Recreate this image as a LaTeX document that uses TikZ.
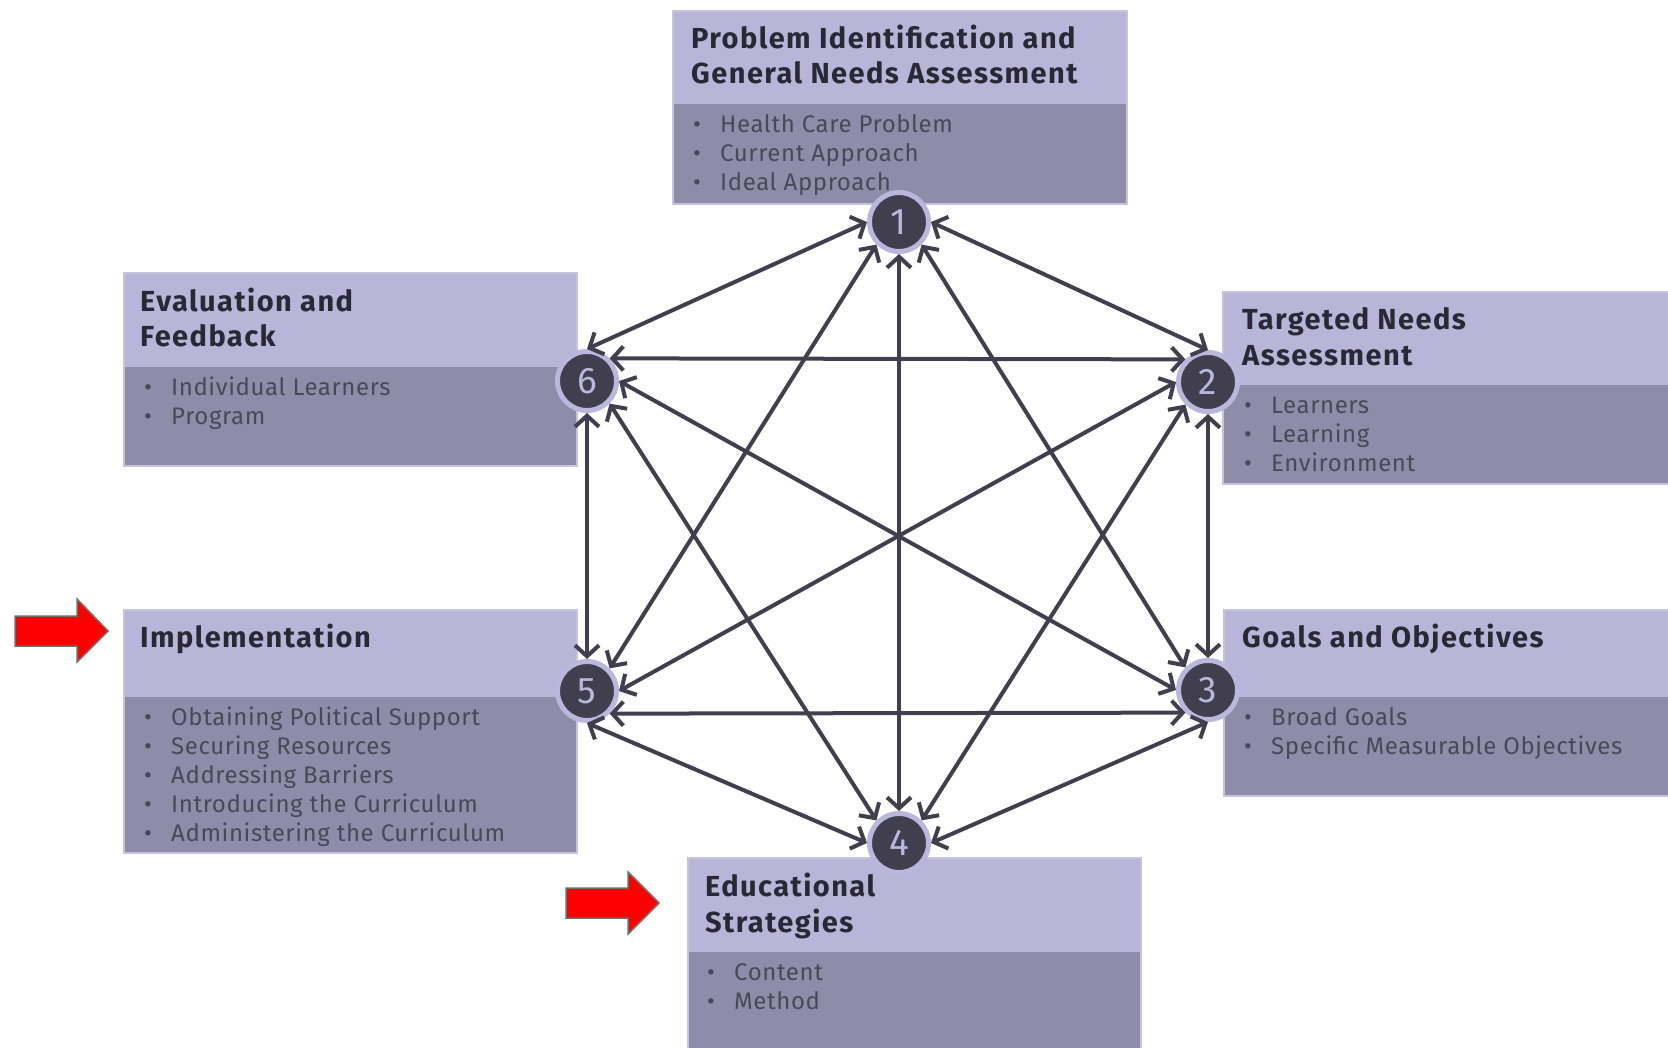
\documentclass[tikz,border=0pt]{standalone}
\usepackage{fontspec}
\setmainfont{Fira Sans}
\newfontfamily\headfont[LetterSpace=5]{Fira Sans}
\newfontfamily\itemfont[LetterSpace=2.5]{Fira Sans}
\usetikzlibrary{arrows.meta}

\definecolor{headfill}{HTML}{B9B5D9}
\definecolor{bodyfill}{HTML}{8F8CAA}
\definecolor{boxline}{HTML}{C6C3E0}
\definecolor{headtext}{HTML}{2A2834}
\definecolor{bodytext}{HTML}{4A4858}
\definecolor{dark}{HTML}{413E4E}
\definecolor{ring}{HTML}{BAB6DC}
\definecolor{pointred}{HTML}{FF0000}
\definecolor{pointline}{HTML}{6E6E6E}

\newcommand{\bull}{\makebox[27pt][l]{\textbullet}}

\tikzset{
  headline/.style={anchor=base west, inner sep=0pt, text=headtext,
    font=\headfont\fontsize{29}{35}\selectfont\bfseries},
  item/.style={anchor=base west, inner sep=0pt, text=bodytext,
    font=\itemfont\fontsize{24}{29}\selectfont},
  stage/.style={circle, fill=dark, draw=ring, line width=5pt,
    minimum size=59pt, inner sep=0pt, text=ring,
    font=\fontsize{37}{37}\selectfont},
  link/.style={line width=4pt, draw=dark,
    {Straight Barb[length=11pt,width=24pt]}-{Straight Barb[length=11pt,width=24pt]}},
  pointer/.style={fill=pointred, draw=pointline, line width=1.5pt}
}

\begin{document}
\begin{tikzpicture}[x=1pt, y=-1pt]
        \useasboundingbox (0,0) rectangle (1668,1047);

        % box 1: problem identification
        \fill[headfill] (673,11) rectangle (1127,104);
        \fill[bodyfill] (673,104) rectangle (1127,204);
        \draw[boxline, line width=1.5pt] (673,11) rectangle (1127,204);
        \node[headline] (h1a) at (691,48) {Problem Identification and};
        \node[headline] (h1b) at (691,83) {General Needs Assessment};
        \foreach \t [count=\i] in {Health Care Problem, Current Approach, Ideal Approach}
          \node[item] (l1-\i) at (693,{103+29*\i}) {\bull\t};

        % box 6: evaluation
        \fill[headfill] (124,273) rectangle (577,367);
        \fill[bodyfill] (124,367) rectangle (577,466);
        \draw[boxline, line width=1.5pt] (124,273) rectangle (577,466);
        \node[headline] (h6a) at (140,311) {Evaluation and};
        \node[headline] (h6b) at (140,346) {Feedback};
        \foreach \t [count=\i] in {Individual Learners, Program}
          \node[item] (l6-\i) at (144,{366+29*\i}) {\bull\t};

        % box 2: targeted needs
        \fill[headfill] (1223,292) rectangle (1672,385);
        \fill[bodyfill] (1223,385) rectangle (1672,484);
        \draw[boxline, line width=1.5pt] (1223,292) rectangle (1672,484);
        \node[headline] (h2a) at (1242,329) {Targeted Needs};
        \node[headline] (h2b) at (1242,365) {Assessment};
        \foreach \t [count=\i] in {Learners, Learning, Environment}
          \node[item] (l2-\i) at (1244,{384+29*\i}) {\bull\t};

        % box 3: goals
        \fill[headfill] (1224,610) rectangle (1672,697);
        \fill[bodyfill] (1224,697) rectangle (1672,796);
        \draw[boxline, line width=1.5pt] (1224,610) rectangle (1672,796);
        \node[headline] (h3a) at (1242,647) {Goals and Objectives};
        \foreach \t [count=\i] in {Broad Goals, Specific Measurable Objectives}
          \node[item] (l3-\i) at (1244,{696+29*\i}) {\bull\t};

        % box 4: educational strategies
        \fill[headfill] (688,858) rectangle (1141,952);
        \fill[bodyfill] (688,952) rectangle (1141,1052);
        \draw[boxline, line width=1.5pt] (688,1052) -- (688,858) -- (1141,858) -- (1141,1052);
        \node[headline] (h4a) at (705,896) {Educational};
        \node[headline] (h4b) at (705,932) {Strategies};
        \foreach \t [count=\i] in {Content, Method}
          \node[item] (l4-\i) at (707,{951+29*\i}) {\bull\t};

        % box 5: implementation
        \fill[headfill] (124,610) rectangle (577,697);
        \fill[bodyfill] (124,697) rectangle (577,853);
        \draw[boxline, line width=1.5pt] (124,610) rectangle (577,853);
        \node[headline] (h5a) at (140,647) {Implementation};
        \foreach \t [count=\i] in {Obtaining Political Support, Securing Resources,
            Addressing Barriers, Introducing the Curriculum, Administering the Curriculum}
          \node[item] (l5-\i) at (144,{696+29*\i}) {\bull\t};

        % the six steps
        \node[stage] (n1) at (899,222) {1};
        \node[stage] (n2) at (1208,382) {2};
        \node[stage] (n3) at (1208,690) {3};
        \node[stage] (n4) at (899,843) {4};
        \node[stage] (n5) at (587,691) {5};
        \node[stage] (n6) at (587,381) {6};

        % every step linked to every other one
        \draw[link] (n1.180) -- (n6.90);
        \draw[link] (n1.225) -- (n5.45);
        \draw[link] (n1.270) -- (n4.90);
        \draw[link] (n1.315) -- (n3.135);
        \draw[link] (n1.0) -- (n2.90);
        \draw[link] (n2.135) -- (n6.45);
        \draw[link] (n2.180) -- (n5.0);
        \draw[link] (n2.225) -- (n4.45);
        \draw[link] (n2.270) -- (n3.90);
        \draw[link] (n3.180) -- (n6.0);
        \draw[link] (n3.225) -- (n5.-45);
        \draw[link] (n3.270) -- (n4.0);
        \draw[link] (n4.135) -- (n6.-45);
        \draw[link] (n4.180) -- (n5.-90);
        \draw[link] (n5.90) -- (n6.-90);

        % red pointers
        \filldraw[pointer] (15,616) -- (77,616) -- (77,599) -- (108,631) -- (77,662) -- (77,646) -- (15,646) -- cycle;
        \filldraw[pointer] (566,888) -- (628,888) -- (628,872) -- (659,903) -- (628,934) -- (628,918) -- (566,918) -- cycle;

      \end{tikzpicture}
\end{document}
